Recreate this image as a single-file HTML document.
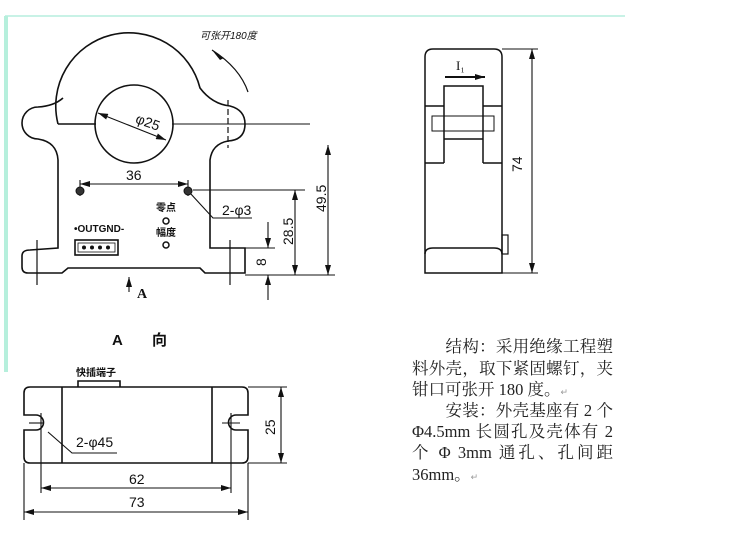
<!DOCTYPE html>
<html><head><meta charset="utf-8"><style>
body{margin:0;background:#fff;width:732px;height:542px;overflow:hidden;position:relative;font-family:"Liberation Sans","Noto Sans CJK SC",sans-serif}
.t{position:absolute;font-family:"Liberation Serif","Noto Serif CJK SC","Noto Sans CJK SC",serif;font-size:16.5px;color:#222;white-space:nowrap;left:412px;width:201px;text-align:justify;text-align-last:justify;line-height:20px}
.l{text-align-last:left}
</style></head><body>
<svg width="732" height="542" style="position:absolute;left:0;top:0" font-family="Liberation Sans, Noto Sans CJK SC, sans-serif">
<defs><marker id="a" markerWidth="10" markerHeight="6" refX="10" refY="3" orient="auto-start-reverse" markerUnits="userSpaceOnUse"><path d="M0,0 L10,3 L0,6z" fill="#111"/></marker></defs>
<line x1="5" y1="16" x2="625" y2="16" stroke="#c8f2e6" stroke-width="2"/>
<line x1="6" y1="16" x2="6" y2="372" stroke="#b6efdc" stroke-width="4"/>
<g fill="none" stroke="#111" stroke-width="1.6">
<path d="M58,124 A72,72 0 0 1 200,88 Q212,104 230,106 Q245,110 245,124 Q245,140 228,141 Q212,144 210,160 L210,248 L245,248 L245,273 L205,273 L200,268 L68,268 L62,273 L28,273 Q22,273 22,267 L22,256 Q22,250 30,250 L58,248 L58,160 Q57,142 38,139 A16,16 0 0 1 38,107 Q54,106 63,98"/>
<line x1="58" y1="124" x2="96" y2="124"/><line x1="172" y1="124" x2="310" y2="124" stroke-width="1"/>
<circle cx="134" cy="124" r="39"/>
<line x1="228" y1="100" x2="228" y2="148" stroke-dasharray="6,3" stroke-width="1.2"/>
<line x1="37" y1="240" x2="37" y2="285" stroke-width="1.2"/><line x1="230" y1="240" x2="230" y2="285" stroke-width="1.2"/>
<path d="M212,50 Q240,68 248,92" stroke-width="1.2"/>
</g>
<g stroke="#111" stroke-width="1.1" fill="none">
<line x1="98" y1="113" x2="166" y2="140" marker-start="url(#a)" marker-end="url(#a)"/>
<line x1="80" y1="184" x2="188" y2="184" marker-start="url(#a)" marker-end="url(#a)"/>
<line x1="80" y1="180" x2="80" y2="196"/><line x1="188" y1="180" x2="188" y2="196"/>
<line x1="193" y1="190" x2="305" y2="190"/>
<polyline points="190,193 213,218 252,218"/>
<line x1="328" y1="145" x2="328" y2="275" marker-start="url(#a)" marker-end="url(#a)"/>
<line x1="295" y1="190" x2="295" y2="275" marker-start="url(#a)" marker-end="url(#a)"/>
<line x1="268" y1="222" x2="268" y2="248" marker-end="url(#a)"/>
<line x1="268" y1="300" x2="268" y2="275" marker-end="url(#a)"/>
<line x1="245" y1="248" x2="275" y2="248"/>
<line x1="245" y1="275" x2="335" y2="275"/>
<line x1="129" y1="292" x2="129" y2="277" marker-end="url(#a)"/>
</g>
<path d="M212,50 L224,58 L220,60z" fill="#111"/>
<circle cx="80" cy="191" r="4" fill="#333" stroke="#111"/><circle cx="188" cy="191" r="4" fill="#333" stroke="#111"/>
<circle cx="166" cy="221" r="3" fill="none" stroke="#111" stroke-width="1.5"/><circle cx="166" cy="245" r="3" fill="none" stroke="#111" stroke-width="1.5"/>
<rect x="75" y="240" width="43" height="15" fill="none" stroke="#111" stroke-width="1.6"/>
<rect x="78" y="243" width="37" height="9" fill="none" stroke="#111" stroke-width="0.8"/>
<g fill="#111"><circle cx="84" cy="247.5" r="2"/><circle cx="92" cy="247.5" r="2"/><circle cx="100" cy="247.5" r="2"/><circle cx="108" cy="247.5" r="2"/></g>
<g fill="#111" font-size="14">
<text x="137" y="125" transform="rotate(20 143 117)">φ25</text>
<text x="126" y="180">36</text>
<text x="222" y="215">2-φ3</text>
<text x="74" y="232" font-size="10" font-weight="bold">•OUTGND-</text>
<text x="156" y="211" font-size="10" font-weight="bold">零点</text>
<text x="156" y="236" font-size="10" font-weight="bold">幅度</text>
<text x="200" y="39" font-size="10" font-style="italic">可张开180度</text>
<text x="0" y="0" transform="translate(326,212) rotate(-90)">49.5</text>
<text x="0" y="0" transform="translate(293,245) rotate(-90)">28.5</text>
<text x="0" y="0" transform="translate(266,266) rotate(-90)">8</text>
<text x="137" y="298" font-family="Liberation Serif,serif" font-weight="bold">A</text>
<text x="112" y="345" font-weight="bold" font-size="15">A</text>
<text x="152" y="345" font-weight="bold" font-size="15">向</text>
<text x="76" y="376" font-size="10" font-weight="bold">快插端子</text>
<text x="76" y="447">2-φ45</text>
<text x="129" y="484">62</text>
<text x="129" y="507">73</text>
<text x="0" y="0" transform="translate(275,435) rotate(-90)">25</text>
<text x="0" y="0" transform="translate(522,172) rotate(-90)">74</text>
<text x="456" y="70" font-family="Liberation Serif,serif" font-size="13">I₁</text>
</g>
<g fill="none" stroke="#111" stroke-width="1.5">
<path d="M425,273 L425,57 Q425,49 433,49 L494,49 Q502,49 502,57 L502,273 Z"/>
<line x1="425" y1="106" x2="444" y2="106"/><line x1="483" y1="106" x2="502" y2="106"/>
<path d="M444,163 L444,86 L483,86 L483,163"/>
<line x1="444" y1="139" x2="483" y2="139"/>
<line x1="425" y1="163" x2="444" y2="163"/><line x1="483" y1="163" x2="502" y2="163"/>
<rect x="432" y="116" width="62" height="15" stroke-width="1"/>
<path d="M425,254 Q425,248 433,248 L494,248 Q502,248 502,254"/>
<rect x="502" y="235" width="6" height="19" stroke-width="1.2"/>
</g>
<g stroke="#111" stroke-width="1.1">
<line x1="445" y1="77" x2="485" y2="77" marker-end="url(#a)" stroke-width="2"/>
<line x1="532" y1="49" x2="532" y2="273" marker-start="url(#a)" marker-end="url(#a)"/>
<line x1="502" y1="49" x2="538" y2="49"/><line x1="502" y1="273" x2="538" y2="273"/>
</g>
<g fill="none" stroke="#111" stroke-width="1.6">
<path d="M30,387 L242,387 Q248,387 248,393 L248,415 L236,415 A7.5,7.5 0 0 0 236,430 L248,430 L248,457 Q248,463 242,463 L30,463 Q24,463 24,457 L24,430 L36,430 A7.5,7.5 0 0 0 36,415 L24,415 L24,393 Q24,387 30,387Z"/>
<line x1="62" y1="387" x2="62" y2="463"/><line x1="212" y1="387" x2="212" y2="463"/>
<path d="M78,387 L78,381 L120,381 L120,387"/>
</g>
<g stroke="#111" stroke-width="1.1" fill="none">
<line x1="41" y1="413" x2="41" y2="493"/><line x1="231" y1="413" x2="231" y2="493"/>
<line x1="24" y1="463" x2="24" y2="520"/><line x1="248" y1="463" x2="248" y2="520"/>
<line x1="29" y1="423" x2="44" y2="423"/><line x1="222" y1="423" x2="240" y2="423"/>
<line x1="41" y1="488" x2="231" y2="488" marker-start="url(#a)" marker-end="url(#a)"/>
<line x1="24" y1="512" x2="248" y2="512" marker-start="url(#a)" marker-end="url(#a)"/>
<line x1="281" y1="387" x2="281" y2="463" marker-start="url(#a)" marker-end="url(#a)"/>
<line x1="248" y1="387" x2="287" y2="387"/><line x1="248" y1="463" x2="287" y2="463"/>
<polyline points="48,432 72,453 117,453"/>
</g>
</svg>
<div class="t" style="top:337px">　　结构：采用绝缘工程塑</div>
<div class="t" style="top:359px">料外壳，取下紧固螺钉，夹</div>
<div class="t l" style="top:380px">钳口可张开 180 度。<span style="font-size:9px;color:#999">↵</span></div>
<div class="t" style="top:401px">　　安装：外壳基座有 2 个</div>
<div class="t" style="top:422px">Φ4.5mm 长圆孔及壳体有 2</div>
<div class="t" style="top:443px">个 Φ 3mm  通孔、孔间距</div>
<div class="t l" style="top:465px">36mm。<span style="font-size:9px;color:#999">↵</span></div>
</body></html>
